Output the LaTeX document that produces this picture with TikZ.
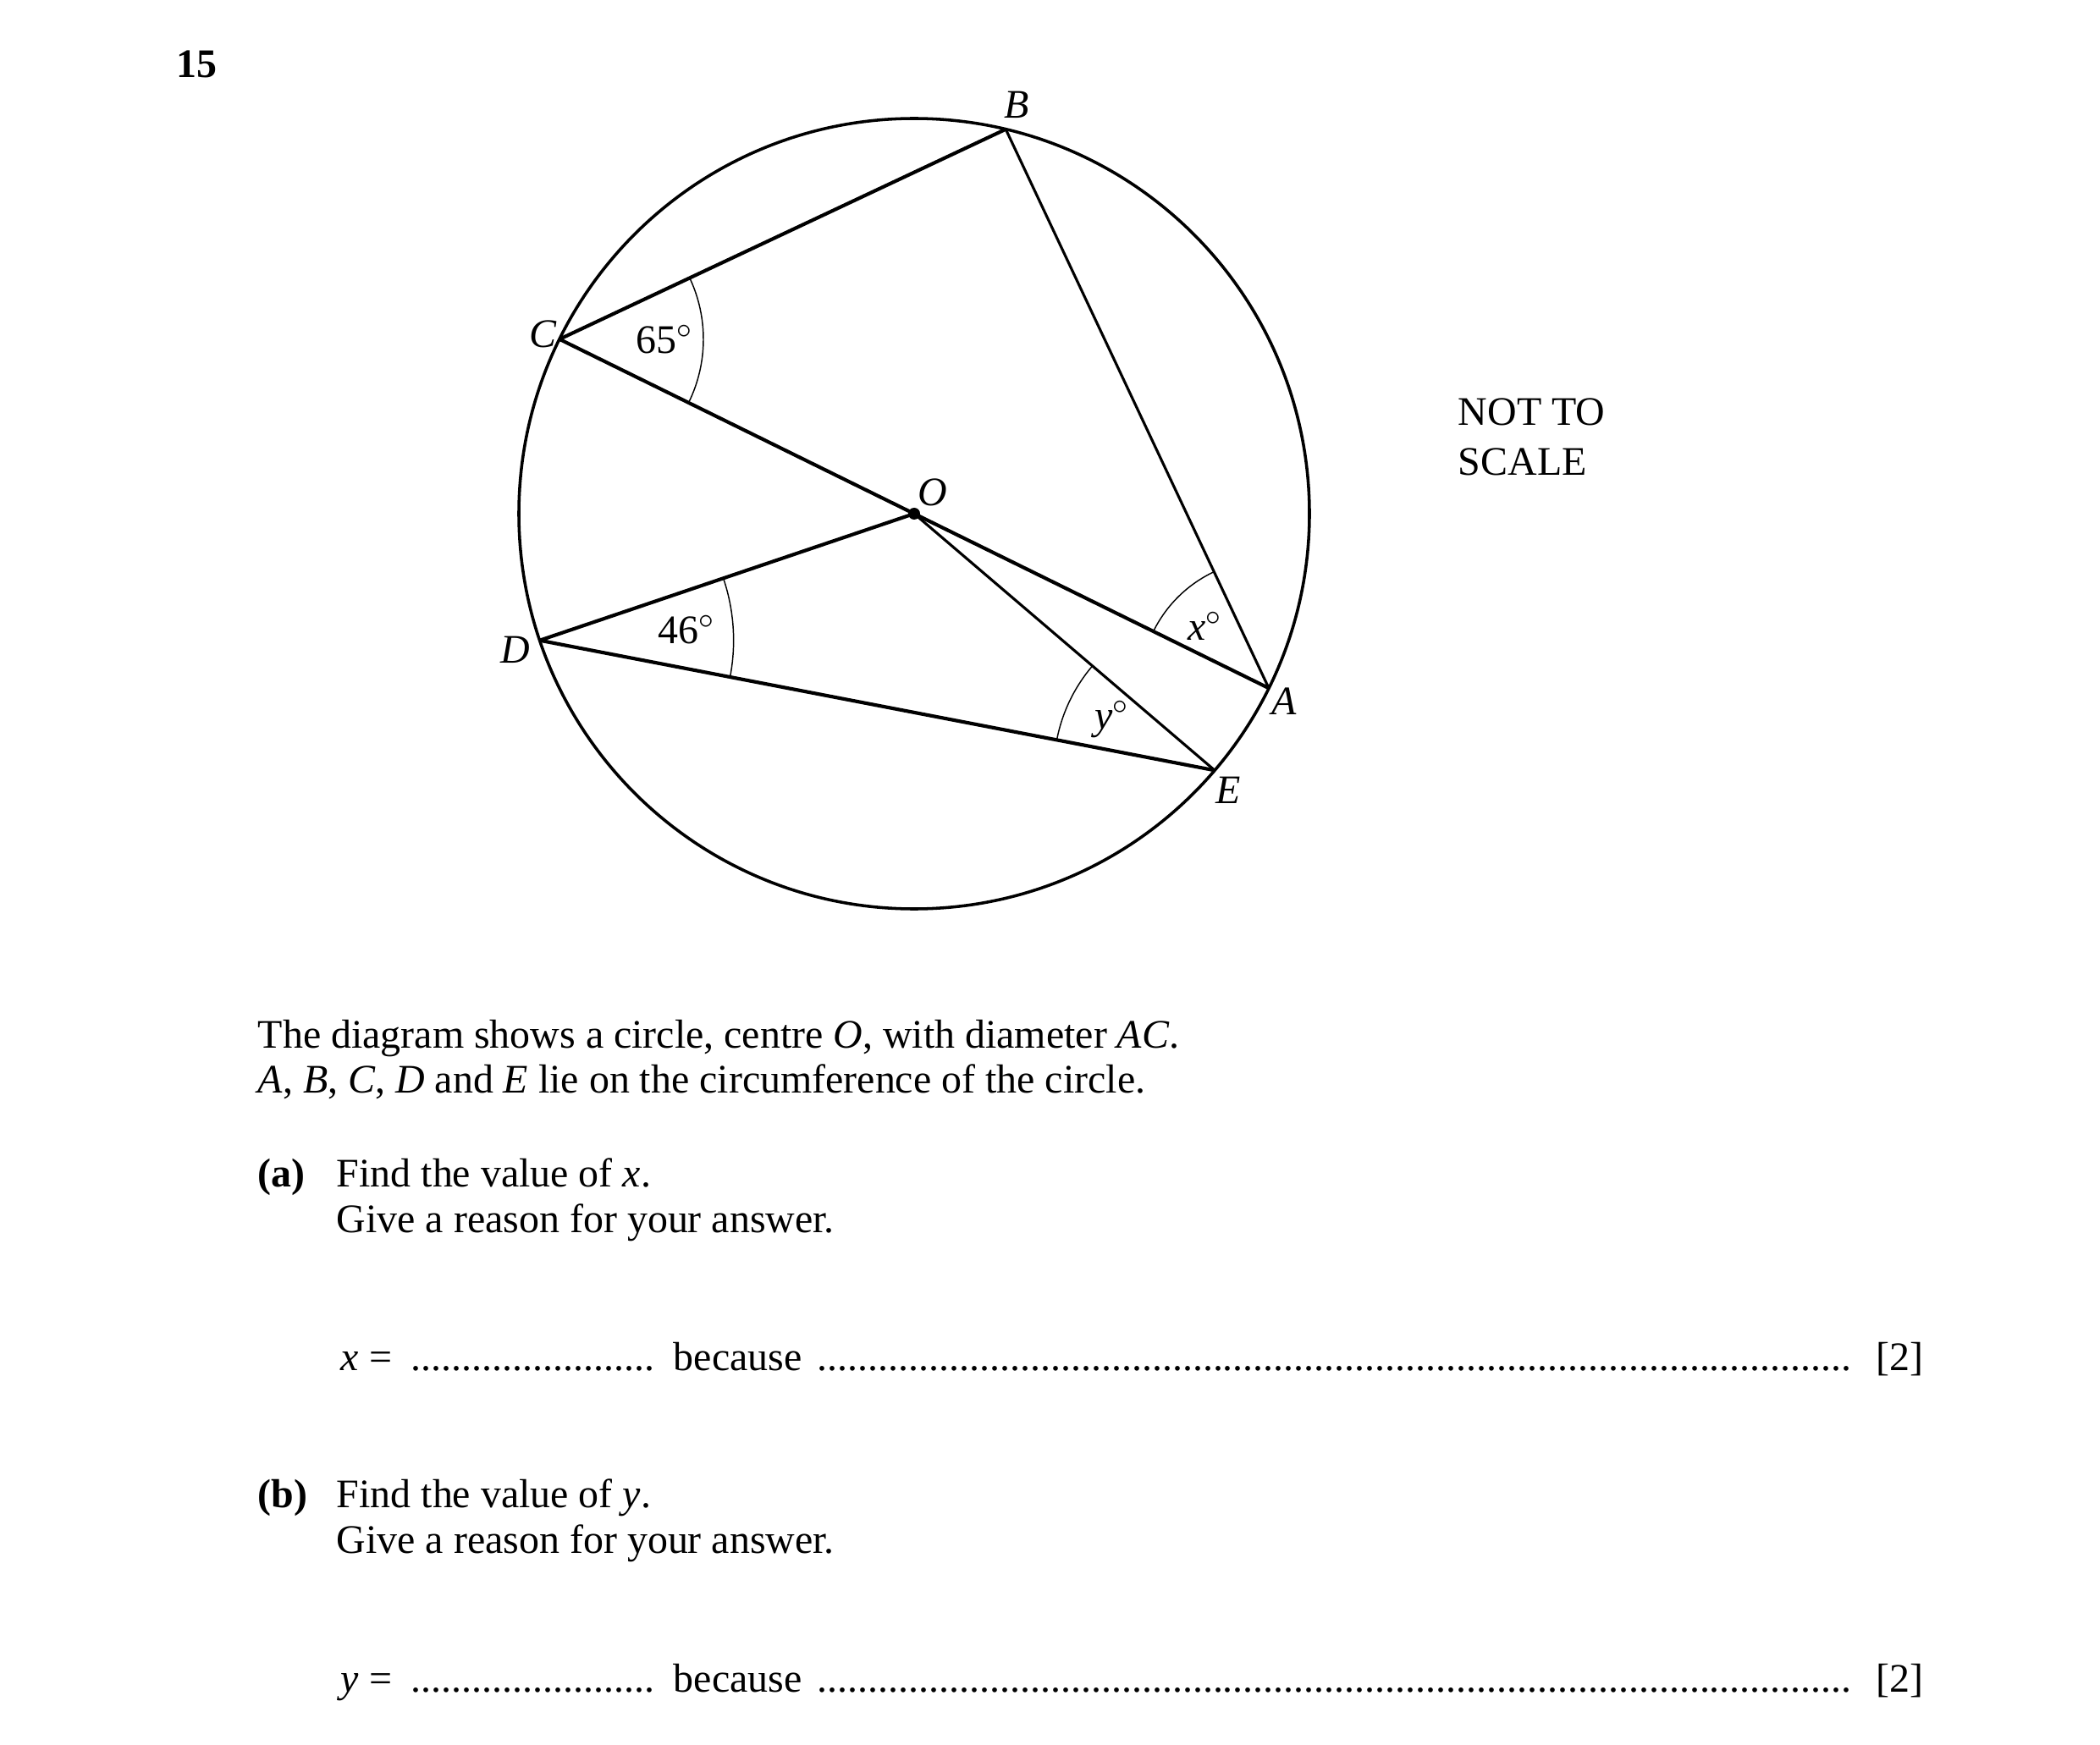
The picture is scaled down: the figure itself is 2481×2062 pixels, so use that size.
\documentclass[tikz,border=0pt]{standalone}
\usepackage{fontspec}
\setmainfont{Liberation Serif}
\usetikzlibrary{calc}
\newcommand\dotrow[1]{\makebox[#1]{\leaders\hbox{.}\hfill}}
\begin{document}
\begin{tikzpicture}[x=0.24pt,y=-0.24pt,
  txt/.style={anchor=base west, inner sep=0pt, font=\fontsize{11.5}{13.8}\selectfont},
  lbl/.style={inner sep=0pt, font=\fontsize{11.5}{13.8}\selectfont\itshape},
  rim/.style={line width=0.85pt},
  thk/.style={line width=1.0pt},
  thn/.style={line width=0.75pt},
  ang/.style={line width=0.35pt}]
\useasboundingbox (0,0) rectangle (2481,2062);
% geometry
\coordinate (O) at (1080,607);
\coordinate (B) at ($(O)+(-76.6:467)$);
\coordinate (C) at ($(O)+(-153.8:467)$);
\coordinate (A) at ($(O)+(26.2:467)$);
\coordinate (D) at ($(O)+(161.3:467)$);
\coordinate (E) at ($(O)+(40.5:467)$);
\draw[rim] (O) circle[radius=467];
\draw[thk] (C) -- (B);
\draw[thn] (B) -- (A);
\draw[thk] (C) -- (O) -- (A);
\draw[thk] (D) -- (O);
\draw[thk] (D) -- (E);
\draw[thn] (O) -- (E);
\fill (O) circle[radius=7];
% angle arcs
\draw[ang] (C) ++(-25.2:170) arc[start angle=-25.2, end angle=26.2, radius=170];
\draw[ang] (D) ++(-18.7:229) arc[start angle=-18.7, end angle=10.9, radius=229];
\draw[ang] (A) ++(-153.8:152) arc[start angle=-153.8, end angle=-115.2, radius=152];
\draw[ang] (E) ++(-169.1:190) arc[start angle=-169.1, end angle=-139.5, radius=190];
% point labels
\node[lbl] (lB) at (1201,124) {B};
\node[lbl] (lC) at (641,395) {C};
\node[lbl] (lD) at (609,768) {D};
\node[lbl] (lA) at (1517,829) {A};
\node[lbl] (lE) at (1451,934) {E};
\node[lbl] (lO) at (1102,582) {O};
% angle labels
\node[lbl,font=\fontsize{11.5}{13.8}\selectfont] (a65) at (785,401) {65$^{\circ}$};
\node[lbl,font=\fontsize{11.5}{13.8}\selectfont] (a46) at (811,744) {46$^{\circ}$};
\node[lbl] (ax) at (1424,740) {x$^{\circ}$};
\node[lbl] (ay) at (1314,850) {y$^{\circ}$};
% texts
\node[txt,font=\fontsize{11.5}{13.8}\selectfont\bfseries] (num) at (208,92) {15};
\node[txt] (nts1) at (1722,503) {NOT TO};
\node[txt] (nts2) at (1722,562) {SCALE};
\node[txt] (t1) at (304,1238) {The diagram shows a circle, centre \textit{O}, with diameter \textit{AC}.};
\node[txt] (t2) at (304,1291) {\textit{A}, \textit{B}, \textit{C}, \textit{D} and \textit{E} lie on the circumference of the circle.};
\node[txt,font=\fontsize{11.5}{13.8}\selectfont\bfseries] (pa) at (304,1402) {(a)};
\node[txt] (pa1) at (397,1402) {Find the value of \textit{x}.};
\node[txt] (pa2) at (397,1456) {Give a reason for your answer.};
\node[txt] (xa) at (402,1619) {\textit{x} =};
\node[txt] (xd1) at (485,1619) {\dotrow{70.5pt}};
\node[txt] (xb) at (795,1619) {because};
\node[txt] (xd2) at (965,1619) {\dotrow{294pt}};
\node[txt] (xm) at (2216,1619) {[2]};
\node[txt,font=\fontsize{11.5}{13.8}\selectfont\bfseries] (pb) at (304,1781) {(b)};
\node[txt] (pb1) at (397,1781) {Find the value of \textit{y}.};
\node[txt] (pb2) at (397,1835) {Give a reason for your answer.};
\node[txt] (ya) at (402,1999) {\textit{y} =};
\node[txt] (yd1) at (485,1999) {\dotrow{70.5pt}};
\node[txt] (yb) at (795,1999) {because};
\node[txt] (yd2) at (965,1999) {\dotrow{294pt}};
\node[txt] (ym) at (2216,1999) {[2]};
\end{tikzpicture}
\end{document}
